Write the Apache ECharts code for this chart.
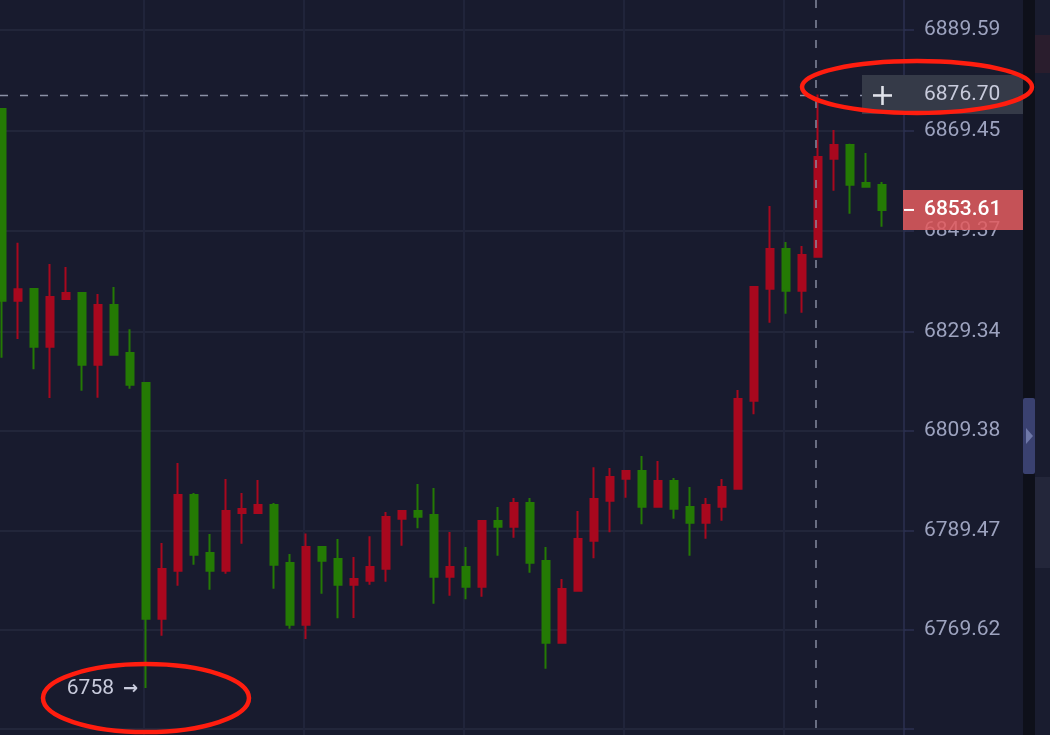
<!DOCTYPE html>
<html>
<head>
<meta charset="utf-8">
<script src="https://cdn.jsdelivr.net/npm/echarts@6/dist/echarts.min.js"></script>
<style>
html,body{margin:0;padding:0;background:#181b2e;overflow:hidden;}
#c{width:1050px;height:735px;}
</style>
</head>
<body>
<div id="c"></div>
<script>
// ---- data ----
const categories = ['1','2','3','4','5','6','7','8','9','10','11','12','13','14','15','16','17','18','19','20',
  '21','22','23','24','25','26','27','28','29','30','31','32','33','34','35','36','37','38','39','40',
  '41','42','43','44','45','46','47','48','49','50','51','52','53','54','55','56'];
const openValues = [6873.80,6835.47,6837.80,6826.27,6835.81,6837.01,6822.67,6834.61,6825.01,6819.01,
  6771.88,6781.48,6796.61,6785.02,6781.48,6793.02,6793.02,6794.62,6783.02,6770.68,
  6786.22,6783.82,6778.68,6779.48,6781.88,6791.88,6793.42,6792.62,6780.28,6782.22,
  6778.28,6791.42,6790.28,6795.02,6783.42,6767.08,6777.48,6787.48,6795.48,6799.88,
  6801.42,6794.28,6799.42,6794.22,6791.08,6794.28,6797.88,6815.47,6837.86,6845.80,
  6837.46,6844.26,6863.86,6866.60,6858.99,6858.60];
const closeValues = [6835.47,6837.74,6826.27,6836.20,6837.01,6822.67,6834.61,6824.67,6818.67,6771.88,
  6781.82,6796.61,6784.68,6781.48,6793.42,6793.82,6794.62,6782.68,6770.68,6786.22,
  6783.48,6778.68,6779.82,6782.22,6792.22,6793.42,6792.28,6780.28,6782.22,6778.28,
  6791.42,6790.28,6795.02,6783.08,6767.08,6777.82,6787.82,6795.82,6800.22,6801.42,
  6794.28,6799.42,6793.88,6791.08,6794.62,6798.22,6815.81,6838.20,6845.80,6837.46,
  6844.60,6864.20,6866.60,6858.66,6858.26,6853.61];
const lowValues = [6824.07,6827.81,6821.75,6816.01,6835.60,6817.47,6816.07,6824.47,6817.87,6758.00,
  6768.48,6778.48,6782.68,6777.68,6780.88,6786.88,6792.82,6777.88,6769.88,6767.82,
  6776.88,6771.96,6772.02,6778.68,6779.28,6786.48,6789.96,6774.88,6776.48,6775.76,
  6776.28,6784.48,6788.08,6781.08,6761.88,6766.90,6777.30,6783.96,6789.16,6796.08,
  6790.76,6794.10,6791.88,6784.48,6787.88,6791.48,6797.70,6812.75,6831.07,6832.87,
  6833.07,6844.10,6857.46,6852.86,6858.06,6850.26];
const highValues = [6873.80,6847.06,6838.00,6842.80,6842.20,6837.20,6836.80,6838.20,6829.75,6819.20,
  6787.02,6803.01,6797.01,6788.82,6799.81,6797.01,6799.61,6795.02,6784.82,6788.92,
  6786.42,6787.82,6784.22,6788.36,6793.22,6793.60,6798.82,6798.02,6789.22,6786.22,
  6791.60,6794.22,6796.02,6796.02,6786.22,6779.82,6793.42,6802.15,6802.01,6801.62,
  6804.42,6803.42,6800.02,6798.22,6796.02,6799.81,6817.61,6838.40,6854.40,6847.20,
  6846.40,6876.70,6869.60,6866.86,6865.00,6859.20];
const tickLabels = ['6889.59','6869.45','6849.37','6829.34','6809.38','6789.47','6769.62'];
const extraGridValues = [6749.83];
const lastPrice = 6853.61;
const crosshairPrice = 6876.70;
const crosshairIndex = 51;
const lowMarkIndex = 9;
const lowMarkLabel = '6758';

// ---- chart ----
const tickValues = tickLabels.map(Number);
const candleData = openValues.map((o, i) => [o, closeValues[i], lowValues[i], highValues[i]]);
const UP = '#a8081e', DOWN = '#247a04';
const FONT = 'Roboto';

const chart = echarts.init(document.getElementById('c'), null, {renderer: 'canvas'});
chart.setOption({
  backgroundColor: '#181b2e',
  animation: false,
  grid: [
    {left: -6, top: 0, width: 912, height: 735, containLabel: false, outerBoundsMode: 'none'},
    {left: -16, top: 0, width: 920, height: 735, containLabel: false, outerBoundsMode: 'none'}
  ],
  xAxis: [
    {type: 'category', gridIndex: 0, data: categories.concat(['']), boundaryGap: true,
     axisLine: {show: false}, axisTick: {show: false}, axisLabel: {show: false}, splitLine: {show: false}},
    {type: 'value', gridIndex: 1, min: 0, max: 920, interval: 160,
     axisLine: {show: false}, axisTick: {show: false}, axisLabel: {show: false},
     splitLine: {show: true, showMinLine: false, showMaxLine: false, lineStyle: {color: '#20243a', width: 2}}}
  ],
  yAxis: [
    {type: 'value', gridIndex: 0, position: 'right', offset: -2,
     min: 6748.625, max: 6895.5885, scale: true,
     axisLine: {show: true, lineStyle: {color: '#2b3150', width: 1.5}},
     axisTick: {show: true, length: 10, inside: false, customValues: tickValues.concat(extraGridValues),
                lineStyle: {color: '#2b3150', width: 1.5}},
     axisLabel: {show: true, customValues: tickValues, margin: 20, color: '#9da3bf',
                 fontSize: 21, fontFamily: FONT, formatter: v => Number(v).toFixed(2)},
     splitLine: {show: true, lineStyle: {color: '#22263a', width: 2}}},
    {type: 'value', gridIndex: 1, show: false, min: 0, max: 1}
  ],
  series: [{
    type: 'candlestick',
    xAxisIndex: 0, yAxisIndex: 0,
    data: candleData,
    barWidth: 8,
    itemStyle: {color: UP, color0: DOWN, borderColor: UP, borderColor0: DOWN, borderWidth: 2},
    emphasis: {disabled: true}
  }]
});

// ---- overlays positioned through the chart's own scales ----
const cross = chart.convertToPixel({gridIndex: 0}, [crosshairIndex, crosshairPrice]);
const last = chart.convertToPixel({gridIndex: 0}, [categories.length - 1, lastPrice]);
const low = chart.convertToPixel({gridIndex: 0}, [lowMarkIndex, lowValues[lowMarkIndex]]);
const axisX = 904;

const g = [
  // right-side chrome
  {type: 'rect', shape: {x: 1023, y: 0, width: 12, height: 735}, style: {fill: '#0e101a'}, z: 1},
  {type: 'rect', shape: {x: 1035, y: 0, width: 15, height: 735}, style: {fill: '#191c2f'}, z: 1},
  {type: 'rect', shape: {x: 1035, y: 35, width: 15, height: 38}, style: {fill: '#2a1d2d'}, z: 2},
  {type: 'rect', shape: {x: 1035, y: 477, width: 15, height: 91}, style: {fill: '#23263a'}, z: 2},
  {type: 'rect', shape: {x: 1023, y: 398, width: 12, height: 76, r: 2}, style: {fill: '#3a4170'}, z: 3},
  {type: 'polygon', shape: {points: [[1026, 428], [1033, 436], [1026, 444]]}, style: {fill: '#6f78a8'}, z: 4},
  // crosshair
  {type: 'line', shape: {x1: cross[0] - 2, y1: 0, x2: cross[0] - 2, y2: 735},
   style: {stroke: '#8b91a6', lineWidth: 1.4, lineDash: [8, 12]}, z: 10},
  {type: 'line', shape: {x1: 0, y1: cross[1] + 1, x2: axisX - 42, y2: cross[1] + 1},
   style: {stroke: '#8b91a6', lineWidth: 1.4, lineDash: [8, 12]}, z: 10},
  {type: 'rect', shape: {x: axisX - 42, y: cross[1] - 19.5, width: 161, height: 39}, style: {fill: '#353a48'}, z: 11},
  {type: 'line', shape: {x1: axisX - 31, y1: cross[1] + 1, x2: axisX - 12, y2: cross[1] + 1},
   style: {stroke: '#e0e2ea', lineWidth: 2.6}, z: 12},
  {type: 'line', shape: {x1: axisX - 21.5, y1: cross[1] - 8.5, x2: axisX - 21.5, y2: cross[1] + 10.5},
   style: {stroke: '#e0e2ea', lineWidth: 2.6}, z: 12},
  {type: 'text', x: axisX + 20, y: cross[1],
   style: {text: crosshairPrice.toFixed(2), fill: '#c8cbdc', font: '21px ' + FONT, verticalAlign: 'middle', align: 'left'}, z: 12},
  // last price tag
  {type: 'rect', shape: {x: axisX - 1, y: last[1] - 20, width: 120, height: 40}, style: {fill: 'rgba(228,92,94,0.85)'}, z: 11},
  {type: 'line', shape: {x1: axisX, y1: last[1], x2: axisX + 10, y2: last[1]}, style: {stroke: '#ffffff', lineWidth: 2}, z: 12},
  {type: 'text', x: axisX + 20, y: last[1],
   style: {text: lastPrice.toFixed(2), fill: '#ffffff', font: '500 21px ' + FONT, verticalAlign: 'middle', align: 'left'}, z: 12},
  // low marker
  {type: 'text', x: low[0] - 32, y: low[1] + 1,
   style: {text: lowMarkLabel, fill: '#c8cbdc', font: '21px ' + FONT, verticalAlign: 'middle', align: 'right'}, z: 12},
  {type: 'text', x: low[0] - 8, y: low[1] + 1,
   style: {text: '\u2192', fill: '#c8cbdc', font: 'bold 18px "DejaVu Sans"', verticalAlign: 'middle', align: 'right'}, z: 12},
  // red annotation ellipses
  {type: 'ellipse', shape: {cx: axisX + 13, cy: cross[1] - 7.5, rx: 115, ry: 26},
   style: {fill: 'none', stroke: '#ff1d0f', lineWidth: 4.5}, z: 20},
  {type: 'ellipse', shape: {cx: low[0], cy: low[1] + 10, rx: 103, ry: 34},
   style: {fill: 'none', stroke: '#ff1d0f', lineWidth: 4.5}, z: 20}
];
chart.setOption({graphic: g});
</script>
</body>
</html>
